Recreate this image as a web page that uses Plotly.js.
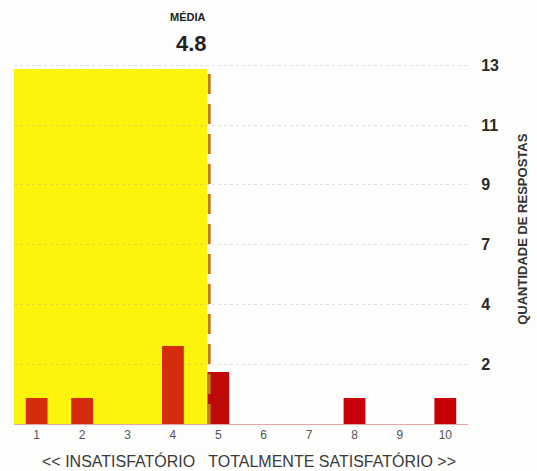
<!DOCTYPE html>
<html>
<head>
<meta charset="utf-8">
<script src="https://cdn.plot.ly/plotly-3.0.1.min.js"></script>
<style>html,body{margin:0;padding:0;background:#fdfdfb;}#chart{width:537px;height:471px;}</style>
</head>
<body>
<div id="chart"></div>
<script>
const categories = [1, 2, 3, 4, 5, 6, 7, 8, 9, 10];
const counts = [1, 1, 0, 3, 2, 0, 0, 1, 0, 1];
const barColors = ['#d42c0c', '#d42c0c', '#d42c0c', '#d42c0c', '#bf0a0a', '#c80008', '#c80008', '#c80008', '#c80008', '#c80008'];
const yTickVals = [2.3, 4.6, 6.9, 9.2, 11.5, 13.8];
const yTickText = ['2', '4', '7', '9', '11', '13'];
const meanValue = 4.8;
const meanLabel = 'MÉDIA';
const xTitle = '<< INSATISFATÓRIO   TOTALMENTE SATISFATÓRIO >>';
const yTitle = 'QUANTIDADE DE RESPOSTAS';

const trace = {
  type: 'bar',
  x: categories,
  y: counts,
  marker: {color: barColors},
  width: 0.48,
  hoverinfo: 'x+y'
};

const layout = {
  width: 537, height: 471,
  margin: {l: 14, r: 69, t: 60, b: 47},
  paper_bgcolor: '#fdfdfb',
  plot_bgcolor: '#fdfdfb',
  font: {family: 'Liberation Sans, Arial, sans-serif', color: '#333'},
  showlegend: false,
  bargap: 0.52,
  xaxis: {
    range: [0.5, 10.5],
    tickvals: categories,
    ticktext: categories.map(String),
    tickfont: {size: 12, color: '#555'},
    ticks: '', showgrid: false, zeroline: false,
    showline: true, linecolor: '#e6a7a7', linewidth: 1,
    fixedrange: true
  },
  yaxis: {
    side: 'right',
    range: [0, 14],
    tickvals: yTickVals,
    ticktext: yTickText,
    tickfont: {size: 16, color: '#2a2a2a', family: 'Liberation Sans, Arial, sans-serif', weight: 'bold'},
    ticks: 'outside', ticklen: 9, tickcolor: 'rgba(0,0,0,0)',
    showgrid: true, gridcolor: 'rgba(150,150,150,0.28)', griddash: 'dot', gridwidth: 1,
    zeroline: false, showline: false,
    fixedrange: true
  },
  shapes: [
    {type: 'rect', xref: 'x', yref: 'y', x0: 0.5, x1: meanValue - 0.05, y0: 0, y1: 13.65,
     fillcolor: '#fcf40c', line: {width: 0}, layer: 'below'},
    {type: 'line', xref: 'x', yref: 'y', x0: meanValue, x1: meanValue, y0: 0, y1: 13.65,
     line: {color: '#c17a22', width: 3, dash: '20px,10px'}, layer: 'above'}
  ],
  annotations: [
    {xref: 'x', yref: 'paper', x: meanValue, y: 1, yshift: 43, xanchor: 'right', yanchor: 'middle',
     text: '<b>' + meanLabel + '</b>', showarrow: false, font: {size: 11, color: '#222'}, xshift: -1},
    {xref: 'x', yref: 'paper', x: meanValue, y: 1, yshift: 17, xanchor: 'right', yanchor: 'middle',
     text: '<b>' + String(meanValue) + '</b>', showarrow: false, font: {size: 22, color: '#222'}, xshift: 0},
    {xref: 'paper', yref: 'paper', x: 0.5176, y: -0.1016, xanchor: 'center', yanchor: 'middle',
     text: xTitle.replace(/</g, '&lt;').replace(/>/g, '&gt;'), showarrow: false, font: {size: 16, color: '#3a3a3a'}},
    {xref: 'paper', yref: 'paper', x: 1.121, y: 0.536, xanchor: 'center', yanchor: 'middle', textangle: -90,
     text: '<b>' + yTitle + '</b>', showarrow: false, font: {size: 13, color: '#333'}}
  ]
};

Plotly.newPlot('chart', [trace], layout, {displayModeBar: false, staticPlot: true});
</script>
</body>
</html>
